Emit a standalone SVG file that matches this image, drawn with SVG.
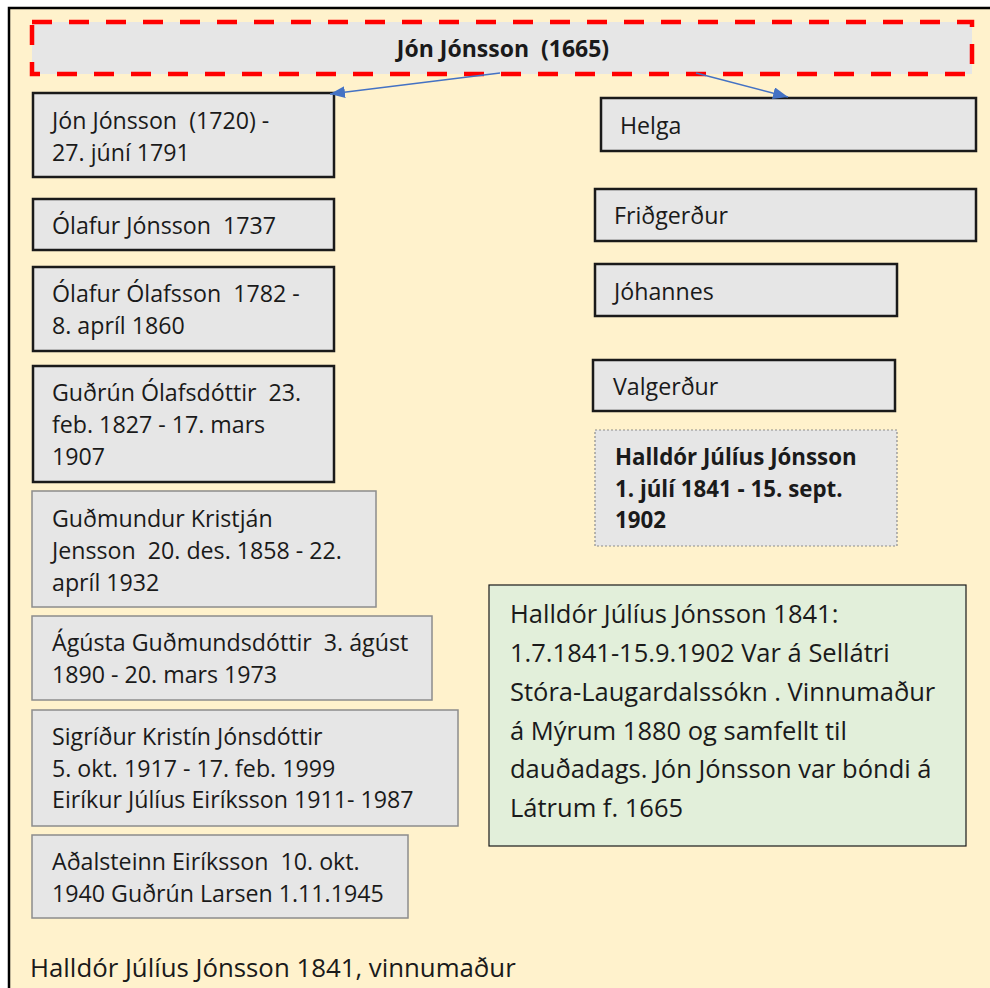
<svg xmlns="http://www.w3.org/2000/svg" width="990" height="988" viewBox="0 0 990 988">
<defs>
<style>
.t{font-family:"Open Sans","Liberation Sans",Arial,sans-serif;font-size:23.2px;fill:#1a1a1a;white-space:pre}
.b{font-weight:bold;font-size:22.3px}
.g{font-size:25.5px}
.dark{fill:#e6e6e6;stroke:#1a1a1a;stroke-width:2.5}
.thin{fill:#e6e6e6;stroke:#8c8c8c;stroke-width:1.5}
.conn{stroke:#4472c4;stroke-width:1.5;fill:none}
</style>
<marker id="ah" viewBox="0 0 15 12" refX="15" refY="6" markerWidth="15" markerHeight="12" markerUnits="userSpaceOnUse" orient="auto">
<path d="M0,0 L15,6 L0,12 z" fill="#4472c4"/>
</marker>
</defs>
<rect x="0" y="0" width="990" height="988" fill="#ffffff"/>
<rect x="9" y="8" width="990" height="1000" fill="#fff2cc" stroke="#000" stroke-width="2.5"/>

<g id="root">
<rect x="32" y="22" width="940" height="52" fill="#e6e6e6" stroke="#ff0000" stroke-width="4.5" stroke-dasharray="20,17"/>
<text class="t b" style="font-size:23px" x="503" y="57" text-anchor="middle" xml:space="preserve">Jón Jónsson  (1665)</text>
</g>

<g id="n1"><rect class="dark" x="33" y="93" width="301" height="84"/>
<text class="t" x="52" y="129" xml:space="preserve">Jón Jónsson  (1720) -</text><text class="t" x="52" y="161">27. júní 1791</text></g>
<g id="n2"><rect class="dark" x="33" y="199" width="301" height="51"/>
<text class="t" x="52" y="234" xml:space="preserve">Ólafur Jónsson  1737</text></g>
<g id="n3"><rect class="dark" x="33" y="267" width="301" height="84"/>
<text class="t" x="52" y="302" xml:space="preserve">Ólafur Ólafsson  1782 -</text><text class="t" x="52" y="334">8. apríl 1860</text></g>
<g id="n4"><rect class="dark" x="33" y="366" width="301" height="116"/>
<text class="t" x="52" y="401" xml:space="preserve">Guðrún Ólafsdóttir  23.</text><text class="t" x="52" y="433">feb. 1827 - 17. mars</text><text class="t" x="52" y="465">1907</text></g>
<g id="n5"><rect class="thin" x="32" y="491" width="344" height="116"/>
<text class="t" x="52" y="527">Guðmundur Kristján</text><text class="t" x="52" y="559" xml:space="preserve">Jensson  20. des. 1858 - 22.</text><text class="t" x="52" y="591">apríl 1932</text></g>
<g id="n6"><rect class="thin" x="32" y="616" width="400" height="84"/>
<text class="t" x="52" y="651" xml:space="preserve">Ágústa Guðmundsdóttir  3. ágúst</text><text class="t" x="52" y="683">1890 - 20. mars 1973</text></g>
<g id="n7"><rect class="thin" x="32" y="710" width="426" height="116"/>
<text class="t" x="52" y="745">Sigríður Kristín Jónsdóttir</text><text class="t" x="52" y="777">5. okt. 1917 - 17. feb. 1999</text><text class="t" x="52" y="808">Eiríkur Júlíus Eiríksson 1911- 1987</text></g>
<g id="n8"><rect class="thin" x="32" y="835" width="376" height="83"/>
<text class="t" x="52" y="870" xml:space="preserve">Aðalsteinn Eiríksson  10. okt.</text><text class="t" x="52" y="902">1940 Guðrún Larsen 1.11.1945</text></g>

<g id="helga"><rect class="dark" x="601" y="98" width="375" height="53"/>
<text class="t" x="620" y="134">Helga</text></g>
<g id="fridgerdur"><rect class="dark" x="595" y="189" width="381" height="52"/>
<text class="t" x="614" y="224">Friðgerður</text></g>
<g id="johannes"><rect class="dark" x="595" y="264" width="302" height="52"/>
<text class="t" x="614" y="300">Jóhannes</text></g>
<g id="valgerdur"><rect class="dark" x="593" y="360" width="302" height="51"/>
<text class="t" x="613" y="395">Valgerður</text></g>
<g id="halldor"><rect x="595" y="430" width="302" height="116" fill="#e6e6e6" stroke="#8c8c8c" stroke-width="1.2" stroke-dasharray="2,2"/>
<text class="t b" x="615" y="465">Halldór Júlíus Jónsson</text><text class="t b" x="615" y="497">1. júlí 1841 - 15. sept.</text><text class="t b" x="615" y="528">1902</text></g>

<g id="note"><rect x="489" y="585" width="477" height="261" fill="#e2efda" stroke="#1a1a1a" stroke-width="1.2"/>
<text class="t g" x="510" y="623">Halldór Júlíus Jónsson 1841:</text>
<text class="t g" x="510" y="662">1.7.1841-15.9.1902 Var á Sellátri</text>
<text class="t g" x="510" y="701">Stóra-Laugardalssókn . Vinnumaður</text>
<text class="t g" x="510" y="740">á Mýrum 1880 og samfellt til</text>
<text class="t g" x="510" y="778">dauðadags. Jón Jónsson var bóndi á</text>
<text class="t g" x="510" y="817">Látrum f. 1665</text></g>

<g id="caption"><text class="t" style="font-size:25.8px" x="30" y="977">Halldór Júlíus Jónsson 1841, vinnumaður</text></g>

<g id="connectors">
<line class="conn" x1="500" y1="73" x2="330" y2="94" marker-end="url(#ah)"/>
<line class="conn" x1="696" y1="73" x2="788" y2="97" marker-end="url(#ah)"/>
</g>
</svg>
